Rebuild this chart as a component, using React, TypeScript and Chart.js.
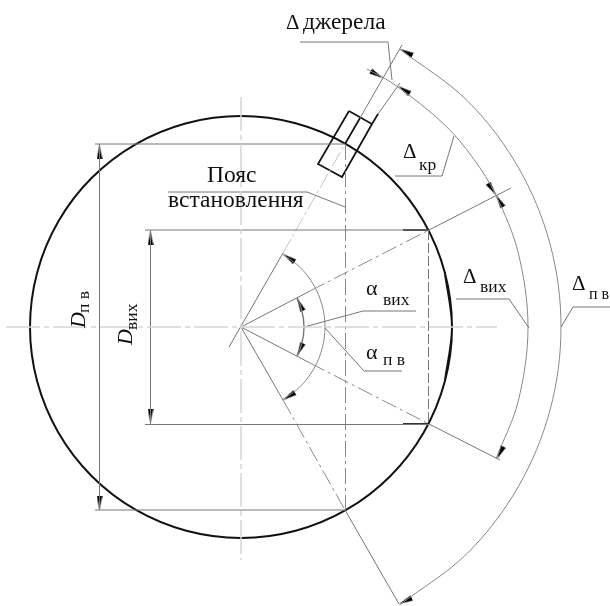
import React, { useEffect, useRef } from "react";
import { Chart, registerables } from "chart.js";

Chart.register(...registerables);

type P = [number, number];

// Drawing geometry, in picture units
const outerCircle: P[] = [
  [444.8, 381.6], [452, 327], [444.8, 272.4], [423.7, 221.5], [390.2, 177.8], [346.5, 144.3], [295.6, 123.2], [241, 116],
  [186.4, 123.2], [135.5, 144.3], [91.8, 177.8], [58.3, 221.5], [37.2, 272.4], [30, 327],
  [37.2, 381.6], [58.3, 432.5], [91.8, 476.2], [135.5, 509.7], [186.4, 530.8], [241, 538],
  [295.6, 530.8], [346.5, 509.7], [390.2, 476.2], [423.7, 432.5], [444.8, 381.6], [452, 327], [444.8, 272.4],
];
const arcDeltaPv: P[] = [
  [399.6, 49.1], [467.3, 100.7], [518.1, 167], [550.1, 244.2], [561, 327],
  [550.1, 409.8], [518.1, 487], [467.3, 553.3], [399.6, 604.9],
];
const arcDeltaVih: P[] = [
  [366.8, 69], [395.2, 85], [443.9, 124.1], [473.2, 158.3], [496, 195.4],
  [518.2, 252.7], [528, 327], [518.2, 401.3], [496, 458.6],
];
const arcAlphaPv: P[] = [
  [282.6, 254], [300.4, 267.6], [313.7, 285], [322.1, 305.3], [325, 327],
  [322.1, 348.7], [313.7, 369], [300.4, 386.4], [282.6, 400],
];
const arcAlphaVih: P[] = [[297, 298.1], [301.9, 310.7], [304, 327], [301.9, 343.3], [297, 355.9]];

const centerH: P[] = [[6, 327], [497, 327]];
const centerV: P[] = [[241, 97], [241, 560]];

const thinLines: P[][] = [
  [[229, 347], [283, 253]],
  [[241, 327], [283, 400]],
  [[241, 327], [310, 291]],
  [[241, 327], [310, 363]],
  [[360, 118], [402, 45]],
  [[378, 114], [400, 83]],
  [[345, 510], [399, 604]],
  [[429, 230], [511, 188]],
  [[429, 424], [500, 460]],
  [[95, 144], [345, 144]],
  [[95, 510], [345, 510]],
  [[145, 230], [429, 230]],
  [[145, 424.5], [429, 424.5]],
  [[99.5, 144], [99.5, 510]],
  [[150.5, 230], [150.5, 424]],
  [[300, 42], [388, 42], [392, 80]],
  [[168, 192], [307, 192], [345, 207]],
  [[304, 327], [363, 311], [416, 311]],
  [[325, 328], [364, 371], [402, 371]],
  [[529, 328], [509, 299], [456, 299]],
  [[561, 327], [573, 307], [610, 307]],
  [[454, 136], [442, 176], [395, 176]],
];
const dashDotLines: P[][] = [
  [[310, 291], [429, 230]],
  [[310, 363], [429, 424]],
  [[283, 400], [345, 510]],
  [[345.5, 144], [345.5, 510]],
];
const paleDashLine: P[] = [[283, 253], [345, 144]];
const dashedChordLink: P[] = [[428.5, 230], [428.5, 424]];
const boldLines: P[][] = [
  [[349, 111], [372, 124], [342, 177], [318, 164], [349, 111]],
  [[360, 118], [345, 144]],
  [[372, 124], [378, 114]],
  [[403, 230], [429, 230]],
  [[403, 424], [429, 424]],
];

// Arrow heads: tip position and turn towards the tail
const arrowTips: P[] = [
  [99.5, 145], [99.5, 510], [150.5, 231], [150.5, 423],
  [283, 254], [283, 400], [297, 298], [297, 356],
  [400, 49], [399, 604], [383, 78], [398, 86],
  [496, 195], [496, 195], [497, 459],
];
const arrowTurns: number[] = [90, -90, 90, -90, 34, -32, 65, -65, 27, -25, -151, 33, -124, 60, -63];

// Labels
const labelTexts = [
  "Δ", "джерела", "Пояс", "встановлення",
  "Δ", "кр", "Δ", "вих", "Δ", "п в",
  "α", "вих", "α", "п в",
  "D", "п в", "D", "вих",
];
const labelX = [286, 303, 207, 168, 403, 419, 463, 480, 572, 589, 366, 383, 366, 383, 85, 89, 132, 137];
const labelY = [29, 29, 182, 207, 158, 170, 283, 292, 290, 299, 295, 305, 359, 365, 328, 313, 345, 330];
const labelSizes = [21, 23.5, 23.5, 23.5, 21, 17.5, 21, 17.5, 21, 16, 22, 17.5, 22, 17.5, 22, 17.5, 22, 17.5];
const labelItalic = [0, 0, 0, 0, 0, 0, 0, 0, 0, 0, 0, 0, 0, 0, 1, 0, 1, 0];
const labelTurned = [0, 0, 0, 0, 0, 0, 0, 0, 0, 0, 0, 0, 0, 0, 1, 1, 1, 1];

const toXY = (pts: P[]) => pts.map(([x, y]) => ({ x, y }));

const labelPlugin = {
  id: "drawingLabels",
  afterDatasetsDraw(chart: any) {
    const { ctx, scales } = chart;
    labelTexts.forEach((t, i) => {
      ctx.save();
      ctx.translate(scales.x.getPixelForValue(labelX[i]), scales.y.getPixelForValue(labelY[i]));
      if (labelTurned[i]) ctx.rotate(-Math.PI / 2);
      ctx.font = `${labelItalic[i] ? "italic " : ""}${labelSizes[i]}px "Liberation Serif"`;
      ctx.fillStyle = "#111";
      ctx.textBaseline = "alphabetic";
      ctx.fillText(t, 0, 0);
      ctx.restore();
    });
  },
};

function makeArrow() {
  const c = document.createElement("canvas");
  c.width = 28;
  c.height = 6;
  const g = c.getContext("2d")!;
  g.fillStyle = "#000";
  g.beginPath();
  g.moveTo(14, 3);
  g.lineTo(28, 0.3);
  g.lineTo(28, 5.7);
  g.closePath();
  g.fill();
  return c;
}

export default function App() {
  const ref = useRef<HTMLCanvasElement>(null);
  useEffect(() => {
    document.body.style.margin = "0";
    const line = (pts: P[], color: string, width: number, dash: number[] = [], tension = 0) => ({
      data: toXY(pts),
      showLine: true,
      borderColor: color,
      borderWidth: width,
      borderDash: dash,
      tension,
      pointRadius: 0,
    });
    const thin = "#777";
    const datasets: any[] = [
      line(centerH, "#d6d6d6", 1.5, [34, 4, 5, 4]),
      line(centerV, "#d6d6d6", 1.5, [34, 4, 5, 4]),
      ...thinLines.map((p) => line(p, thin, 1)),
      ...dashDotLines.map((p) => line(p, "#8a8a8a", 1, [16, 4, 3, 4])),
      line(paleDashLine, "#c4c4c4", 1, [16, 3, 3, 3]),
      line(dashedChordLink, "#777", 1, [10, 3]),
      line(arcDeltaPv, "#888", 1, [], 0.34),
      line(arcDeltaVih, "#888", 1, [], 0.34),
      line(arcAlphaPv, "#888", 1, [], 0.34),
      line(arcAlphaVih, "#777", 1.4, [], 0.34),
      line(outerCircle, "#111", 2, [], 0.34),
      ...boldLines.map((p) => line(p, "#111", 1.7)),
      {
        data: toXY(arrowTips),
        showLine: false,
        pointStyle: makeArrow(),
        rotation: arrowTurns,
        pointRadius: 6,
      },
    ];
    const chart = new Chart(ref.current!, {
      type: "scatter",
      data: { datasets },
      options: {
        animation: false,
        responsive: false,
        layout: { padding: 0, autoPadding: false },
        plugins: { legend: { display: false }, tooltip: { enabled: false } },
        scales: {
          x: { type: "linear", display: false, min: 0, max: 610 },
          y: { type: "linear", display: false, min: 0, max: 606, reverse: true },
        },
      },
      plugins: [labelPlugin],
    } as any);
    return () => chart.destroy();
  }, []);
  return (
    <div style={{ position: "absolute", left: 0, top: 0, width: 610, height: 606, background: "#fff" }}>
      <canvas ref={ref} width={610} height={606} style={{ display: "block" }} />
    </div>
  );
}
